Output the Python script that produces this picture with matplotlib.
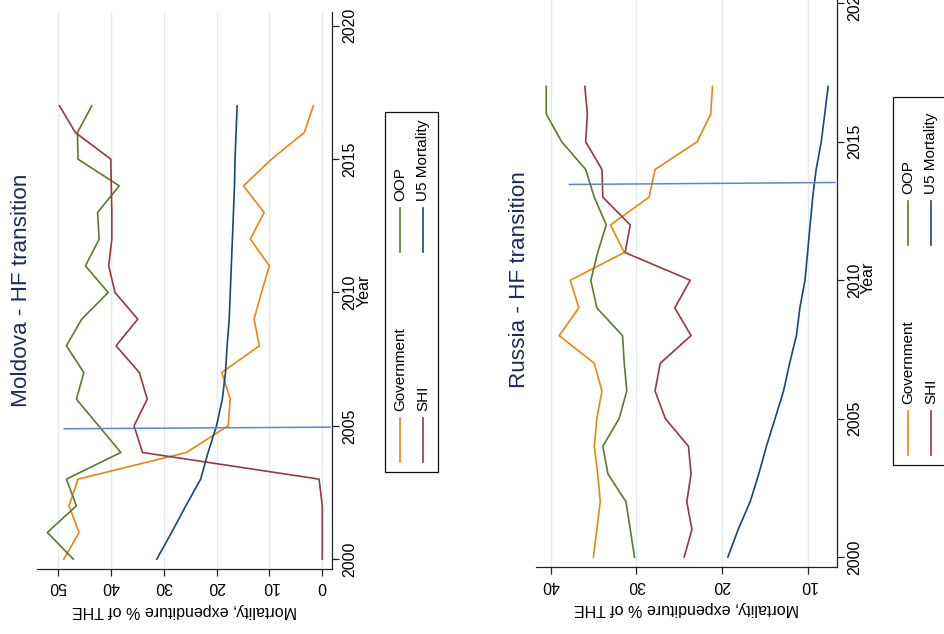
import matplotlib
matplotlib.use('Agg')
import matplotlib.pyplot as plt
from matplotlib.lines import Line2D
from matplotlib.patches import Rectangle

plt.rcParams['font.family'] = ['Liberation Sans', 'DejaVu Sans']

years = list(range(2000, 2018))

# Moldova
md_gov = [48.9, 46.0, 47.9, 46.2, 25.7, 17.8, 17.4, 19.0, 11.9, 12.9, 11.5, 10.0, 13.6, 11.0, 14.9, 9.6, 3.4, 1.7]
md_oop = [47.1, 52.0, 46.5, 48.4, 38.1, 42.3, 46.5, 45.1, 48.4, 45.5, 40.5, 44.8, 42.2, 42.5, 38.4, 46.2, 46.3, 43.6]
md_shi = [0.0, 0.0, 0.0, 0.6, 34.0, 35.6, 33.1, 34.6, 39.0, 34.9, 39.2, 40.4, 39.8, 39.8, 39.9, 40.0, 46.7, 49.7]
md_u5 = [31.3, 28.5, 25.8, 23.0, 21.6, 20.0, 18.9, 18.3, 18.0, 17.6, 17.4, 17.2, 17.0, 16.8, 16.6, 16.5, 16.3, 16.1]
md_trans_x = [48.8, -1.5]
md_trans_y = [2004.89, 2004.95]

# Russia
ru_gov = [35.0, 34.6, 34.2, 34.5, 34.9, 34.6, 34.0, 34.9, 39.0, 36.7, 37.7, 31.4, 33.0, 28.5, 27.8, 22.9, 21.3, 21.1]
ru_oop = [30.2, 30.7, 31.2, 33.3, 33.9, 32.0, 31.1, 31.4, 31.6, 34.6, 35.3, 34.5, 33.5, 34.9, 35.9, 38.7, 40.5, 40.5]
ru_shi = [24.4, 23.5, 24.1, 23.6, 23.9, 26.6, 27.8, 27.2, 23.6, 25.5, 23.7, 31.3, 30.7, 33.9, 34.0, 35.9, 35.7, 36.0]
ru_u5 = [19.3, 18.1, 16.7, 15.7, 14.8, 13.8, 12.8, 12.1, 11.3, 10.9, 10.3, 10.0, 9.7, 9.4, 9.0, 8.4, 8.0, 7.6]
ru_trans_x = [37.8, 6.8]
ru_trans_y = [2013.46, 2013.53]

series_names = ['Government', 'OOP', 'SHI', 'U5 Mortality']
colors = {'Government': '#e8870e', 'OOP': '#5a7a34', 'SHI': '#933a40', 'U5 Mortality': '#1c476f'}
trans_color = '#5a86d4'
title_color = '#1c2b5c'
fs = 11.5

W, H = 945, 634
fig = plt.figure(figsize=(W / 100, H / 100), dpi=100)


def fx(x):
    return x / W


def fy(y):
    return 1 - y / H


def panel(rect, data, trans, xlim, xticks, title, title_pos, leg):
    ax = fig.add_axes(rect)
    for v in xticks:
        ax.axvline(v, color='#e3ebef', lw=1, zorder=0)
    for name, vals in zip(series_names, data):
        ax.plot(vals, years, color=colors[name], lw=1.2)
    ax.plot(trans[0], trans[1], color=trans_color, lw=1.1)
    ax.set_xlim(*xlim)
    ax.set_ylim(1999.63, 2020.52)
    ax.set_xticks(xticks)
    ax.set_yticks([2000, 2005, 2010, 2015, 2020])
    ax.yaxis.tick_right()
    ax.yaxis.set_label_position('right')
    for s in ['left', 'top']:
        ax.spines[s].set_visible(False)
    for s in ['right', 'bottom']:
        ax.spines[s].set_color('#222222')
        ax.spines[s].set_linewidth(0.9)
    ax.tick_params(axis='both', length=5, width=0.9, color='#222222', labelsize=fs, pad=2.5)
    for lab in ax.get_xticklabels():
        lab.set_rotation(180)
    for lab in ax.get_yticklabels():
        lab.set_rotation(90)
        lab.set_va('center')
    ax.set_xlabel('Mortality, expenditure % of THE', rotation=180, fontsize=fs, labelpad=6)
    ax.set_ylabel('Year', rotation=90, fontsize=fs, labelpad=-1)
    fig.text(fx(title_pos[0]), fy(title_pos[1]), title, rotation=90, ha='center', va='center',
             fontsize=16.2, color=title_color)

    # legend built by hand because entries are rotated
    lx0, ly0, lx1, ly1 = leg
    fig.add_artist(Rectangle((fx(lx0), fy(ly1)), fx(lx1) - fx(lx0), fy(ly0) - fy(ly1),
                             transform=fig.transFigure, fill=False, ec='#111111', lw=0.9))
    col_x = [lx0 + 15, lx0 + 38]
    key_start = [ly1 - 10, ly1 - 220]
    entries = [('Government', 0, 0), ('OOP', 0, 1), ('SHI', 1, 0), ('U5 Mortality', 1, 1)]
    for name, c, r in entries:
        x = col_x[c]
        y0 = key_start[r]
        fig.add_artist(Line2D([fx(x), fx(x)], [fy(y0), fy(y0 - 44)], transform=fig.transFigure,
                              color=colors[name], lw=1.2))
        fig.text(fx(x), fy(y0 - 51), name, rotation=90, ha='center', va='bottom', fontsize=11)
    return ax


panel([fx(37.3), fy(569), fx(332.3) - fx(37.3), fy(12) - fy(569)],
      [md_gov, md_oop, md_shi, md_u5], (md_trans_x, md_trans_y),
      (53.9, -1.9), [0, 10, 20, 30, 40, 50], 'Moldova - HF transition', (22, 290),
      (385, 112, 438, 472))

panel([fx(536), fy(567.3), fx(836.7) - fx(536), fy(-11) - fy(567.3)],
      [ru_gov, ru_oop, ru_shi, ru_u5], (ru_trans_x, ru_trans_y),
      (41.7, 6.6), [10, 20, 30, 40], 'Russia - HF transition', (520, 280),
      (893, 97, 960, 465))

fig.savefig('out.png', dpi=100)
